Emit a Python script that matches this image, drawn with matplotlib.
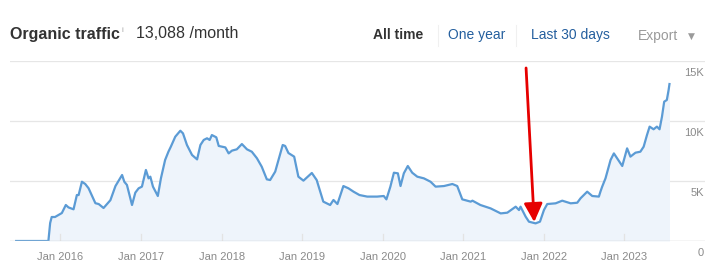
import matplotlib
matplotlib.use("Agg")
import matplotlib.pyplot as plt
import pandas as pd

plt.rcParams["font.family"] = ["Liberation Sans", "DejaVu Sans"]

# traffic readings (date, visits/month)
DATES = [
    "2015-06-15", "2015-11-08", "2015-11-16", "2015-11-23", "2015-12-08",
    "2016-01-08", "2016-01-26", "2016-02-07", "2016-03-01", "2016-03-16",
    "2016-03-24", "2016-04-08", "2016-04-23", "2016-05-08", "2016-06-08",
    "2016-06-23", "2016-07-15", "2016-07-31", "2016-08-15", "2016-09-07",
    "2016-10-07", "2016-10-17", "2016-10-29", "2016-11-21", "2016-12-06",
    "2016-12-21", "2017-01-05", "2017-01-23", "2017-02-04", "2017-02-12",
    "2017-02-24", "2017-03-18", "2017-04-01", "2017-04-20", "2017-05-05",
    "2017-05-16", "2017-06-05", "2017-06-28", "2017-07-10", "2017-07-28",
    "2017-08-20", "2017-09-12", "2017-09-27", "2017-10-12", "2017-10-27",
    "2017-11-08", "2017-11-18", "2017-12-08", "2017-12-19", "2018-01-18",
    "2018-02-02", "2018-02-17", "2018-03-11", "2018-04-03", "2018-04-26",
    "2018-05-18", "2018-06-10", "2018-07-02", "2018-07-25", "2018-08-09",
    "2018-09-01", "2018-09-16", "2018-10-05", "2018-10-16", "2018-10-31",
    "2018-11-26", "2018-12-15", "2019-01-07", "2019-02-14", "2019-03-08",
    "2019-04-07", "2019-05-08", "2019-05-23", "2019-06-10", "2019-07-07",
    "2019-07-30", "2019-08-22", "2019-09-18", "2019-10-23", "2019-12-07",
    "2020-01-06", "2020-01-18", "2020-02-05", "2020-02-21", "2020-03-10",
    "2020-03-22", "2020-04-06", "2020-04-24", "2020-05-14", "2020-06-06",
    "2020-07-06", "2020-08-05", "2020-08-28", "2020-10-05", "2020-11-12",
    "2020-12-04", "2020-12-27", "2021-02-03", "2021-02-11", "2021-03-19",
    "2021-05-04", "2021-06-19", "2021-07-19", "2021-08-26", "2021-09-10",
    "2021-09-17", "2021-10-10", "2021-10-25", "2021-11-24", "2021-12-14",
    "2022-01-01", "2022-01-16", "2022-02-23", "2022-03-25", "2022-05-02",
    "2022-06-01", "2022-06-16", "2022-07-16", "2022-08-08", "2022-09-07",
    "2022-09-14", "2022-09-22", "2022-10-07", "2022-10-30", "2022-11-14",
    "2022-11-29", "2022-12-22", "2023-01-13", "2023-01-28", "2023-02-20",
    "2023-03-14", "2023-03-29", "2023-04-13", "2023-04-25", "2023-05-13",
    "2023-05-28", "2023-06-09", "2023-06-20", "2023-06-30", "2023-07-12",
    "2023-07-20", "2023-07-24",
]
TRAFFIC = [
    0, 0, 1500, 2000, 2000,
    2330, 3000, 2800, 2640, 3830,
    3830, 4940, 4750, 4400, 3150,
    3080, 2750, 3080, 3400, 4580,
    5500, 4940, 4670, 3000, 4030,
    4390, 4530, 5920, 5220, 5360,
    4530, 3750, 5220, 6750, 7440,
    7860, 8690, 9190, 8970, 8000,
    7170, 6800, 8000, 8420, 8560,
    8420, 8830, 8640, 7920, 7800,
    7300, 7530, 7640, 8080, 7640,
    7440, 6900, 6190, 5140, 5080,
    5780, 6750, 8000, 7920, 7330,
    7030, 5360, 5030, 5670, 5080,
    3280, 3000, 3420, 3080, 4580,
    4390, 4110, 3830, 3700, 3700,
    3750, 3470, 4530, 5690, 5640,
    4580, 5640, 6250, 5690, 5360,
    5220, 4940, 4530, 4580, 4750,
    4580, 3470, 3280, 3360, 3000,
    2720, 2300, 2360, 2860, 2580,
    2860, 2030, 1610, 1470, 1610,
    2580, 3080, 3140, 3360, 3140,
    3190, 3560, 4110, 3750, 3700,
    4110, 4530, 5220, 6750, 7300,
    6890, 6250, 7720, 7030, 7360,
    7440, 7860, 8830, 9530, 9310,
    9530, 9310, 10360, 11610, 11750,
    12580, 13080,
]

TICK_YEARS = [2016, 2017, 2018, 2019, 2020, 2021, 2022, 2023]
Y_TICKS = [0, 5000, 10000, 15000]
Y_LABELS = ["0", "5K", "10K", "15K"]

ARROW_TAIL = ("2021-10-12", 14420)
ARROW_TIP = ("2021-11-18", 1580)

LINE = "#5b9bd5"
FILL = "#eef4fb"
GRID = "#e6e6e6"
TXT_GRAY = "#8a8a8a"
LINK = "#245f9e"

W, H = 717, 279
fig = plt.figure(figsize=(W / 100, H / 100), dpi=100)
ax = fig.add_axes([10 / W, 38 / H, 695 / W, 180 / H])

x = pd.to_datetime(DATES)
ax.fill_between(x, TRAFFIC, 0, color=FILL, lw=0, zorder=1)
ax.plot(x, TRAFFIC, color=LINE, lw=1.6, zorder=3, solid_joinstyle="round")

ax.set_xlim(pd.Timestamp("2015-05-18"), pd.Timestamp("2024-01-01"))
ax.set_ylim(0, 15000)

for s in ax.spines.values():
    s.set_visible(False)
for v in Y_TICKS[1:]:
    ax.axhline(v, color=GRID, lw=0.9, zorder=0)
ax.axhline(0, color="#cfcfcf", lw=1.0, zorder=4)

ax.set_yticks([])
ax.set_xticks([])
for v, lab in zip(Y_TICKS, Y_LABELS):
    ax.annotate(lab, xy=(1.0, v), xycoords=("axes fraction", "data"),
                xytext=(-1, -5), textcoords="offset points",
                ha="right", va="top", fontsize=8, color=TXT_GRAY)

for yr in TICK_YEARS:
    d = pd.Timestamp(f"{yr}-01-01")
    ax.plot([d, d], [0, 0.038], transform=ax.get_xaxis_transform(),
            color="#e3e3e3", lw=0.9, zorder=2)
    ax.annotate(f"Jan {yr}", xy=(d, 0), xycoords=("data", "axes fraction"),
                xytext=(0, -8), textcoords="offset points",
                ha="center", va="top", fontsize=8, color=TXT_GRAY)

ax.annotate("", xy=(pd.Timestamp(ARROW_TIP[0]), ARROW_TIP[1]),
            xytext=(pd.Timestamp(ARROW_TAIL[0]), ARROW_TAIL[1]),
            arrowprops=dict(arrowstyle="-|>,head_width=0.4,head_length=0.8",
                            color="#e60000", lw=2.0, mutation_scale=14,
                            shrinkA=0, shrinkB=0),
            zorder=6)

# header
fig.text(10 / W, 1 - 34 / H, "Organic traffic", fontsize=11.5, fontweight="bold",
         color="#333333", va="center", ha="left")
fig.text(122 / W, 1 - 31 / H, "i", fontsize=6, color="#aaaaaa", va="center", ha="left")
fig.text(136 / W, 1 - 34 / H, "13,088 /month", fontsize=11.5,
         color="#333333", va="center", ha="left")

fig.text(373 / W, 1 - 35 / H, "All time", fontsize=10, fontweight="bold",
         color="#333333", va="center", ha="left")
fig.text(448 / W, 1 - 35 / H, "One year", fontsize=10, color=LINK, va="center", ha="left")
fig.text(531 / W, 1 - 35 / H, "Last 30 days", fontsize=10, color=LINK, va="center", ha="left")
fig.text(638 / W, 1 - 36 / H, "Export", fontsize=10, color="#9a9a9a", va="center", ha="left")
fig.text(688 / W, 1 - 36 / H, "\u25bc", fontsize=6.5, color="#9a9a9a", va="center", ha="left",
         family=["DejaVu Sans"])
for sx in (438, 516):
    fig.add_artist(plt.Line2D([sx / W, sx / W], [1 - 25 / H, 1 - 46 / H],
                              color="#f0f0f0", lw=0.8))

fig.savefig("out.png", dpi=100, facecolor="white")
